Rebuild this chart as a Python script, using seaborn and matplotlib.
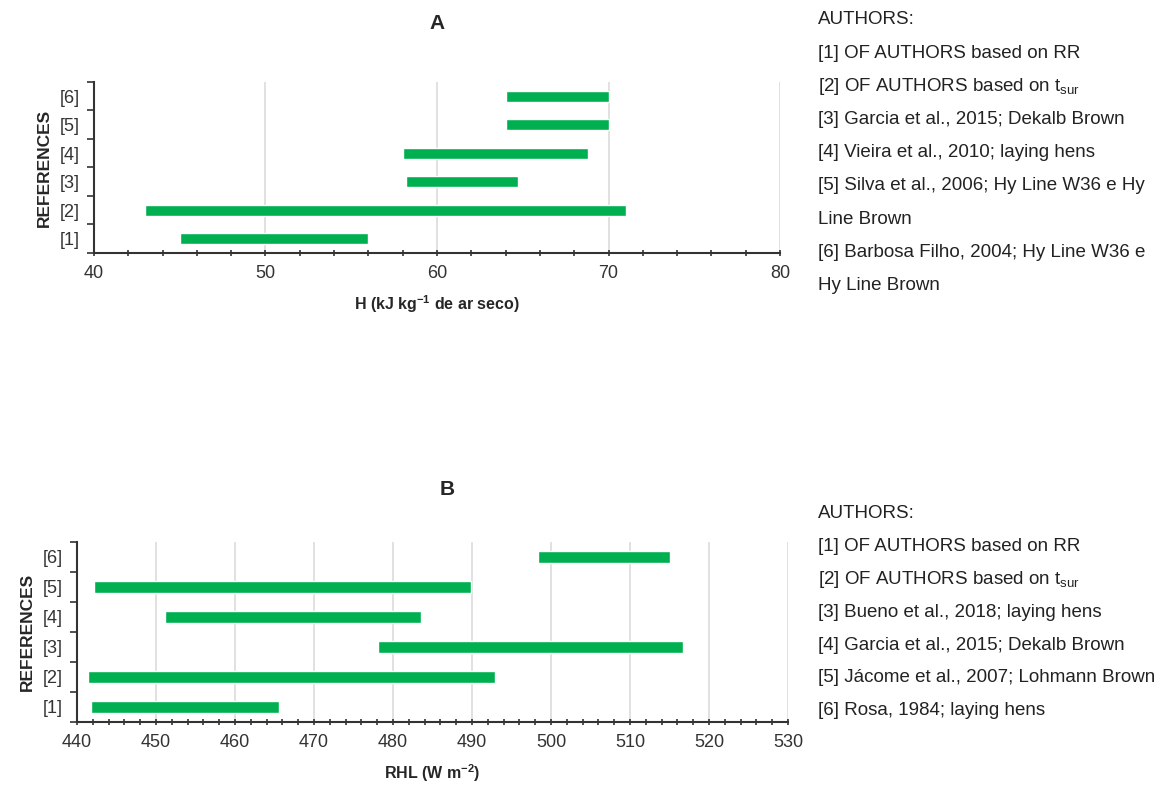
import matplotlib
matplotlib.use("Agg")
import matplotlib.pyplot as plt
import seaborn as sns
from matplotlib.ticker import MultipleLocator

# --- data ---
refs = ["[1]", "[2]", "[3]", "[4]", "[5]", "[6]"]

h_start = [45.0, 43.0, 58.2, 58.0, 64.0, 64.0]
h_end = [56.0, 71.0, 64.7, 68.8, 70.0, 70.0]

rhl_start = [441.8, 441.4, 478.1, 451.1, 442.2, 498.3]
rhl_end = [465.6, 492.9, 516.7, 483.5, 489.9, 515.0]

authors_a = [
    "AUTHORS:",
    "[1] OF AUTHORS based on RR",
    r"[2] OF AUTHORS based on t$_{\mathrm{sur}}$",
    "[3] Garcia et al., 2015; Dekalb Brown",
    "[4] Vieira et al., 2010; laying hens",
    "[5] Silva et al., 2006; Hy Line W36 e Hy",
    "Line Brown",
    "[6] Barbosa Filho, 2004; Hy Line W36 e",
    "Hy Line Brown",
]
authors_b = [
    "AUTHORS:",
    "[1] OF AUTHORS based on RR",
    r"[2] OF AUTHORS based on t$_{\mathrm{sur}}$",
    "[3] Bueno et al., 2018; laying hens",
    "[4] Garcia et al., 2015; Dekalb Brown",
    "[5] Jácome et al., 2007; Lohmann Brown",
    "[6] Rosa, 1984; laying hens",
]

green = "#00B050"

sns.set_theme(style="white")
plt.rcParams["font.family"] = ["Liberation Sans", "DejaVu Sans"]
plt.rcParams["mathtext.fontset"] = "custom"
plt.rcParams["mathtext.rm"] = "Liberation Sans"
plt.rcParams["mathtext.bf"] = "Liberation Sans:bold"
plt.rcParams["mathtext.it"] = "Liberation Sans:italic"

fig = plt.figure(figsize=(11.63, 7.92), dpi=100)
ax_a = fig.add_axes([0.0808, 0.6806, 0.5899, 0.2159])
ax_b = fig.add_axes([0.0662, 0.0884, 0.6114, 0.2273])


def draw_panel(ax, starts, ends, xlim, height):
    pos = list(range(1, len(refs) + 1))
    widths = [e - s for s, e in zip(starts, ends)]
    ax.barh(pos, widths, left=starts, height=height, color=green, zorder=3)
    ax.set_xlim(*xlim)
    ax.set_ylim(0.5, len(refs) + 0.5)
    ax.xaxis.set_major_locator(MultipleLocator(10))
    ax.xaxis.set_minor_locator(MultipleLocator(2))
    ax.grid(axis="x", which="major", color="#dcdcdc", linewidth=1.2, zorder=0)
    ax.grid(axis="y", visible=False)
    # boundaries as ticks, labels at the centres
    ax.set_yticks([p + 0.5 for p in [0] + pos])
    ax.set_yticklabels([])
    ax.set_yticks(pos, minor=True)
    ax.set_yticklabels(refs, minor=True)
    ax.tick_params(axis="y", which="major", direction="out", length=5, width=1.2, color="#333333", left=True)
    ax.tick_params(axis="y", which="minor", length=0, pad=10, labelsize=13, labelcolor="#333333")
    ax.tick_params(axis="x", which="both", direction="inout", length=5, width=1.2, color="#333333", bottom=True)
    ax.tick_params(axis="x", which="major", labelsize=13, pad=6, labelcolor="#333333")
    for side in ["top", "right"]:
        ax.spines[side].set_visible(False)
    for side in ["left", "bottom"]:
        ax.spines[side].set_color("#333333")
        ax.spines[side].set_linewidth(1.5)


draw_panel(ax_a, h_start, h_end, (40, 80), 0.38)
draw_panel(ax_b, rhl_start, rhl_end, (440, 530), 0.4)

ax_a.set_title("A", fontsize=15, fontweight="bold", pad=38)
ax_b.set_title("B", fontsize=15, fontweight="bold", pad=34, x=0.52)
ax_a.set_xlabel(r"H (kJ kg$^{\mathbf{-1}}$ de ar seco)", fontsize=11.5, fontweight="bold", labelpad=8)
ax_b.set_xlabel(r"RHL (W m$^{\mathbf{-2}}$)", fontsize=11.5, fontweight="bold", labelpad=8)
ax_a.set_ylabel("REFERENCES", fontsize=12.5, fontweight="bold", labelpad=6)
ax_b.set_ylabel("REFERENCES", fontsize=12.5, fontweight="bold", labelpad=6)

for i, line in enumerate(authors_a):
    fig.text(818 / 1163, 1 - (20 + 33.2 * i) / 792, line, fontsize=13.5, color="#222222", va="center")
for i, line in enumerate(authors_b):
    fig.text(818 / 1163, 1 - (514 + 32.8 * i) / 792, line, fontsize=13.5, color="#222222", va="center")

fig.savefig("out.png", dpi=100)
